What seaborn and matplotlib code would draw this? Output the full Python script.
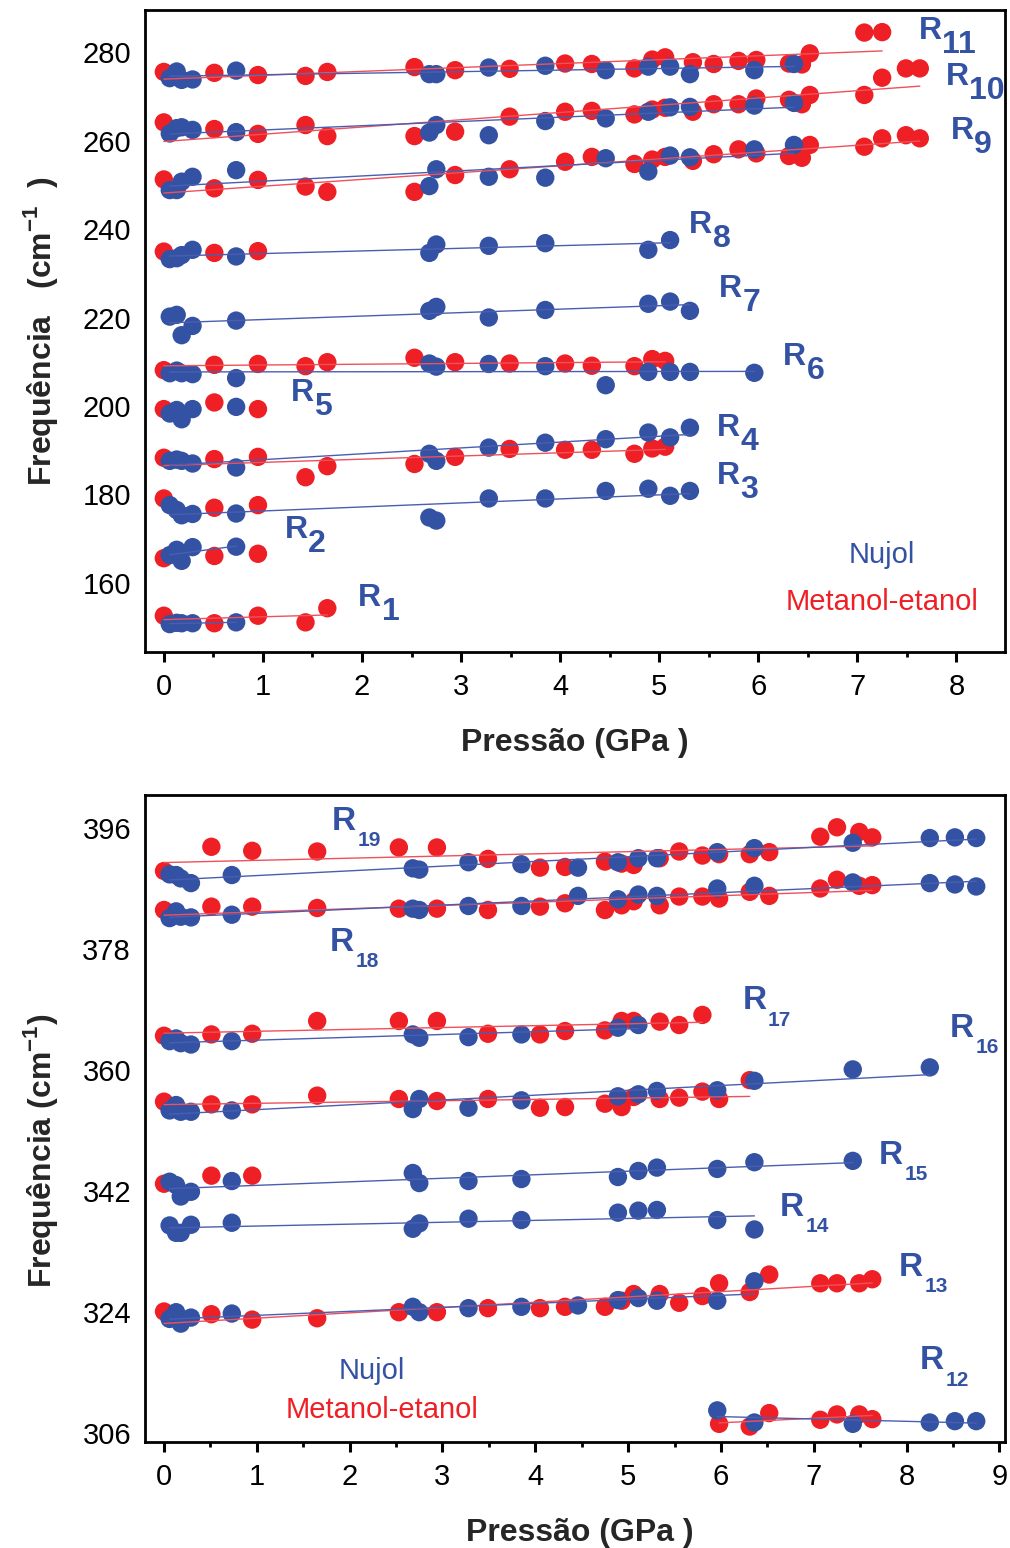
import numpy as np
import pandas as pd
import matplotlib
matplotlib.use("Agg")
import matplotlib.pyplot as plt
import seaborn as sns
from matplotlib.ticker import MultipleLocator, FixedLocator

nan = np.nan

# ---------------- data ----------------
# pressures (GPa) of the two runs
P_NUJOL = [0.06, 0.13, 0.18, 0.29, 0.73, 2.68, 2.75, 3.28, 3.85, 4.46, 4.89,
           5.11, 5.31, 5.96, 6.36, 7.42, 8.25, 8.52, 8.75]
P_METANOL = [0.00, 0.51, 0.95, 1.43, 1.65, 2.53, 2.94, 3.49, 4.05, 4.32, 4.75,
             4.93, 5.06, 5.34, 5.55, 5.80, 5.98, 6.31, 6.44, 6.52, 7.07, 7.25,
             7.49, 7.63]

# ---- top panel, Nujol (cm-1) ----
R1_NUJOL = [150.7, 151.0, 150.9, 150.9, 151.1]
R2_NUJOL = [166.3, 167.5, 165.0, 168.1, 168.2]
R3_NUJOL = [177.6, 176.5, 175.3, 175.6, 175.7, 174.8, 174.1, 179.1, 179.1, 180.8, 181.3, 179.7, 180.8]
R4_NUJOL = [187.6, 187.9, 187.6, 187.0, 186.1, 189.2, 187.6, 190.6, 191.7, 192.5, 194.0, 192.9, 195.1]
R5_NUJOL = [198.3, 199.1, 197.0, 199.3, 199.8]
R6_NUJOL = [207.4, 208.0, 207.4, 207.2, 206.3, 209.6, 208.9, 209.5, 209.0, 204.7, 207.7, 207.7, 207.7, 207.5]
R7_NUJOL = [220.2, 220.6, 216.0, 218.1, 219.3, 221.5, 222.4, 220.0, 221.7, nan, 223.1, 223.6, 221.5]
R8_NUJOL = [233.2, 233.4, 234.1, 235.3, 233.8, 234.6, 236.5, 236.2, 236.8, nan, 235.3, 237.5]
R9_NUJOL = [248.8, 248.8, 250.7, 251.8, 253.3, 249.7, 253.5, 251.8, 251.6, 256.0, 253.0, 256.6, 256.2, 258.0, 259.0]
R10_NUJOL = [261.6, 262.8, 263.0, 262.4, 261.9, 261.8, 263.5, 261.2, 264.4, 265.0, 266.5, 267.5, 267.6, 267.9, 268.5]
R11_NUJOL = [274.1, 275.6, 273.7, 273.8, 275.8, 275.0, 275.0, 276.5, 276.9, 275.9, 276.7, 276.7, 275.0, 275.9, 277.3]

# ---- top panel, Metanol-etanol (cm-1) ----
R1_METANOL = [152.6, 150.9, 152.6, 151.1, 154.3]
R2_METANOL = [165.6, 166.1, 166.6]
R3_METANOL = [179.1, 177.0, 177.6]
R4_METANOL = [188.3, 188.0, 188.5, 183.9, 186.4, 186.9, 188.5, 190.3, 190.1, 190.1, 189.2, 190.4, 190.8]
R5_METANOL = [199.3, 200.8, 199.3]
R6_METANOL = [208.1, 209.3, 209.5, 209.0, 209.9, 210.9, 209.9, 209.6, 209.6, 209.1, 209.0, 210.6, 210.2]
R8_METANOL = [234.9, 234.6, 235.0]
R9_METANOL = [251.2, 249.2, 251.1, 249.6, 248.4, 248.4, 252.2, 253.5, 255.2, 256.3, 254.7, 255.7,
              256.3, 255.4, 256.9, 258.0, 257.1, 256.5, 256.1, 259.0, 258.6, 260.5, 261.2, 260.5]
R10_METANOL = [264.1, 262.6, 261.5, 263.5, 261.0, 261.0, 262.0, 265.4, 266.5, 266.7, 265.9, 267.0,
               267.4, 266.5, 268.2, 268.2, 269.5, 269.2, 268.2, 270.3, 270.3, 274.2, 276.3, 276.3]
R11_METANOL = [275.5, 275.3, 274.8, 274.6, 275.5, 276.6, 275.9, 276.2, 277.4, 277.3, 276.3, 278.3,
               278.8, 277.7, 277.3, 278.0, 278.2, 277.4, 277.2, 279.7, 284.4, 284.5]

# ---- bottom panel, Nujol (cm-1) ----
R12_NUJOL = [nan, nan, nan, nan, nan, nan, nan, nan, nan, nan, nan, nan, nan,
             309.4, 307.6, 307.4, 307.6, 307.8, 307.8]
R13_NUJOL = [323.0, 324.0, 322.3, 323.2, 323.8, 324.8, 324.0, 324.6, 324.8, 325.0, 325.8, 326.1, 325.7, 325.7, 328.6]
R14_NUJOL = [336.9, 335.8, 335.8, 337.0, 337.3, 336.4, 337.2, 337.9, 337.7, nan, 338.8, 339.1, 339.2, 337.7, 336.3]
R15_NUJOL = [343.4, 342.9, 341.2, 341.9, 343.5, 344.7, 343.2, 343.5, 343.8, nan, 344.1, 345.0, 345.5, 345.3, 346.3, 346.5]
R16_NUJOL = [354.0, 354.8, 353.8, 353.8, 354.0, 354.2, 355.7, 354.4, 355.5, nan, 356.1, 356.4, 356.9, 357.0, 358.4, 360.1, 360.4]
R17_NUJOL = [364.3, 364.7, 364.0, 363.8, 364.3, 365.3, 364.8, 364.9, 365.3, nan, 366.3, 366.7]
R18_NUJOL = [382.6, 383.6, 382.8, 382.7, 383.1, 384.0, 383.8, 384.4, 384.4, 385.9, 385.4, 386.1,
             385.9, 387.0, 387.4, 387.9, 387.8, 387.6, 387.3]
R19_NUJOL = [389.1, 389.0, 388.5, 387.8, 389.0, 390.0, 389.8, 390.9, 390.6, 390.1, 390.9, 391.5,
             391.5, 392.4, 393.0, 393.8, 394.5, 394.6, 394.5]

# ---- bottom panel, Metanol-etanol (cm-1) ----
R12_METANOL = [nan, nan, nan, nan, nan, nan, nan, nan, nan, nan, nan, nan, nan, nan, nan, nan,
               307.4, 307.0, nan, 309.0, 308.0, 308.8, 308.8, 308.1]
R13_METANOL = [324.1, 323.7, 322.9, nan, 323.1, 324.0, 324.0, 324.6, 324.6, 324.8, 324.8, 325.7,
               326.7, 326.7, 325.4, 326.4, 328.3, 327.0, nan, 329.6, 328.3, 328.3, 328.3, 328.9]
R15_METANOL = [343.1, 344.3, 344.3]
R16_METANOL = [355.3, 354.9, 354.9, nan, 356.2, 355.7, 355.4, 355.7, 354.4, 354.5, 355.0, 354.5,
               356.0, 355.7, 355.9, 356.8, 355.7, 358.5]
R17_METANOL = [365.1, 365.3, 365.4, nan, 367.3, 367.3, 367.3, 365.4, 365.3, 365.8, 365.9, 367.3,
               367.3, 367.2, 366.7, 368.2]
R18_METANOL = [383.8, 384.3, 384.3, nan, 384.1, 384.0, 384.0, 383.8, 384.3, 384.8, 383.8, 384.5,
               385.1, 384.5, 385.8, 385.8, 385.5, 386.5, nan, 385.9, 387.0, 388.3, 387.4, 387.5]
R19_METANOL = [389.6, 393.2, 392.6, nan, 392.5, 393.1, 393.1, 391.4, 390.1, 390.2, 391.0, 390.7,
               390.5, 391.5, 392.5, 391.9, 392.1, 392.1, nan, 392.4, 394.7, 396.1, 395.4, 394.6]

# which modes have a linear fit drawn
FIT_NUJOL = ["R1", "R2", "R3", "R4", "R6", "R7", "R8", "R9", "R10", "R11",
             "R12", "R13", "R14", "R15", "R16", "R17", "R18", "R19"]
FIT_METANOL = ["R1", "R4", "R6", "R9", "R10", "R11", "R12", "R13", "R16", "R17", "R18", "R19"]

TOP_MODES = ["R1", "R2", "R3", "R4", "R5", "R6", "R7", "R8", "R9", "R10", "R11"]
BOTTOM_MODES = ["R12", "R13", "R14", "R15", "R16", "R17", "R18", "R19"]

# ---------------- build table ----------------
g = globals()
rows = []
for medium, pvals in (("Metanol-etanol", P_METANOL), ("Nujol", P_NUJOL)):
    suffix = "METANOL" if medium != "Nujol" else "NUJOL"
    for panel, modes in (("top", TOP_MODES), ("bottom", BOTTOM_MODES)):
        for m in modes:
            name = f"{m}_{suffix}"
            if name not in g:
                continue
            for p, f in zip(pvals, g[name]):
                if not np.isnan(f):
                    rows.append(dict(panel=panel, mode=m, medium=medium, P=p, freq=f))
df = pd.DataFrame(rows)

# ---------------- style ----------------
BLUE = "#3452A3"
RED = "#EE1F25"
LINE_BLUE = "#4A5EB0"
LINE_RED = "#F0505A"

sns.set_theme(style="white")
plt.rcParams["font.family"] = ["Liberation Sans", "DejaVu Sans"]
plt.rcParams["mathtext.fontset"] = "custom"
plt.rcParams["mathtext.rm"] = "Liberation Sans"
plt.rcParams["mathtext.bf"] = "Liberation Sans:bold"
plt.rcParams["text.color"] = "black"
plt.rcParams["xtick.color"] = "black"
plt.rcParams["ytick.color"] = "black"

W, H = 1010, 1548
fig = plt.figure(figsize=(W / 100, H / 100), dpi=100)
ax_top = fig.add_axes([145 / W, 1 - 652 / H, 860 / W, 642 / H])
ax_bot = fig.add_axes([145 / W, 1 - 1442 / H, 860 / W, 647 / H])

palette = {"Nujol": BLUE, "Metanol-etanol": RED}


def draw_panel(ax, panel):
    d = df[df.panel == panel]
    sns.scatterplot(data=d, x="P", y="freq", hue="medium", palette=palette,
                    s=175, linewidth=0, legend=False, ax=ax, zorder=3)
    for medium, fits, lc in (("Metanol-etanol", FIT_METANOL, LINE_RED),
                             ("Nujol", FIT_NUJOL, LINE_BLUE)):
        for m in fits:
            sub = d[(d["mode"] == m) & (d.medium == medium)]
            if len(sub) < 2:
                continue
            sns.regplot(data=sub, x="P", y="freq", scatter=False, ci=None,
                        truncate=True, ax=ax,
                        line_kws=dict(color=lc, lw=1.0, zorder=4))


draw_panel(ax_top, "top")
draw_panel(ax_bot, "bottom")

# ---------------- axes ----------------
for ax in (ax_top, ax_bot):
    for sp in ax.spines.values():
        sp.set_visible(True)
        sp.set_linewidth(2.0)
        sp.set_color("black")
    ax.xaxis.set_major_locator(MultipleLocator(1))
    ax.xaxis.set_minor_locator(MultipleLocator(0.5))
    ax.tick_params(axis="x", which="major", bottom=True, direction="out",
                   length=7, width=2.2, labelsize=21, pad=8)
    ax.tick_params(axis="x", which="minor", bottom=True, direction="out",
                   length=3.5, width=2.0)
    ax.tick_params(axis="y", left=True, length=0, labelsize=21, pad=10)
    ax.set_xlabel("Pressão (GPa )", fontsize=23, fontweight="bold")

ax_top.set_xlim(-0.19, 8.49)
ax_top.set_ylim(144.4, 289.5)
ax_top.yaxis.set_major_locator(FixedLocator([160, 180, 200, 220, 240, 260, 280]))
ax_top.set_ylabel(r"Frequência   (cm$^{\mathbf{-1}}$  )", fontsize=23, fontweight="bold")
ax_top.yaxis.set_label_coords(-0.099, 0.5)
ax_top.xaxis.set_label_coords(0.5, -0.118)

ax_bot.set_xlim(-0.205, 9.06)
ax_bot.set_ylim(304.7, 400.9)
ax_bot.yaxis.set_major_locator(FixedLocator([306, 324, 342, 360, 378, 396]))
ax_bot.set_ylabel(r"Frequência (cm$^{\mathbf{-1}}$)", fontsize=23, fontweight="bold")
ax_bot.yaxis.set_label_coords(-0.099, 0.45)
ax_bot.xaxis.set_label_coords(0.506, -0.117)

# ---------------- mode labels ----------------
TOP_LABELS = [("11", 7.62, 284.7), ("10", 7.89, 274.4), ("9", 7.94, 262.1),
              ("8", 5.30, 240.9), ("7", 5.60, 226.4), ("6", 6.25, 211.0),
              ("5", 1.28, 202.9), ("4", 5.58, 195.1), ("3", 5.58, 184.2),
              ("2", 1.22, 172.0), ("1", 1.96, 156.6)]
BOTTOM_LABELS = [("19", 1.81, 397.0), ("18", 1.79, 379.0), ("17", 6.23, 370.3),
                 ("16", 8.47, 366.2), ("15", 7.70, 347.3), ("14", 6.63, 339.6),
                 ("13", 7.92, 330.7), ("12", 8.14, 316.8)]


def rlabel(ax, num, x, y, size, subsize, dx, dy):
    ax.text(x, y, "R", color=BLUE, fontsize=size, fontweight="bold",
            ha="left", va="center", zorder=5)
    ax.annotate(num, xy=(x, y), xytext=(dx, -dy), textcoords="offset points",
                color=BLUE, fontsize=subsize, fontweight="bold",
                ha="left", va="center", zorder=5)


for num, x, y in TOP_LABELS:
    rlabel(ax_top, num, x, y, 23, 23, 17, 10)
for num, x, y in BOTTOM_LABELS:
    rlabel(ax_bot, num, x, y, 24, 15, 18.5, 14)

# ---------------- medium legends ----------------
ax_top.text(0.857, 0.151, "Nujol", color=BLUE, fontsize=21, ha="center", va="center",
            transform=ax_top.transAxes)
ax_top.text(0.857, 0.078, "Metanol-etanol", color=RED, fontsize=21, ha="center",
            va="center", transform=ax_top.transAxes)
ax_bot.text(0.264, 0.109, "Nujol", color=BLUE, fontsize=21, ha="center", va="center",
            transform=ax_bot.transAxes)
ax_bot.text(0.276, 0.050, "Metanol-etanol", color=RED, fontsize=21, ha="center",
            va="center", transform=ax_bot.transAxes)

fig.savefig("out.png", dpi=100, facecolor="white")
